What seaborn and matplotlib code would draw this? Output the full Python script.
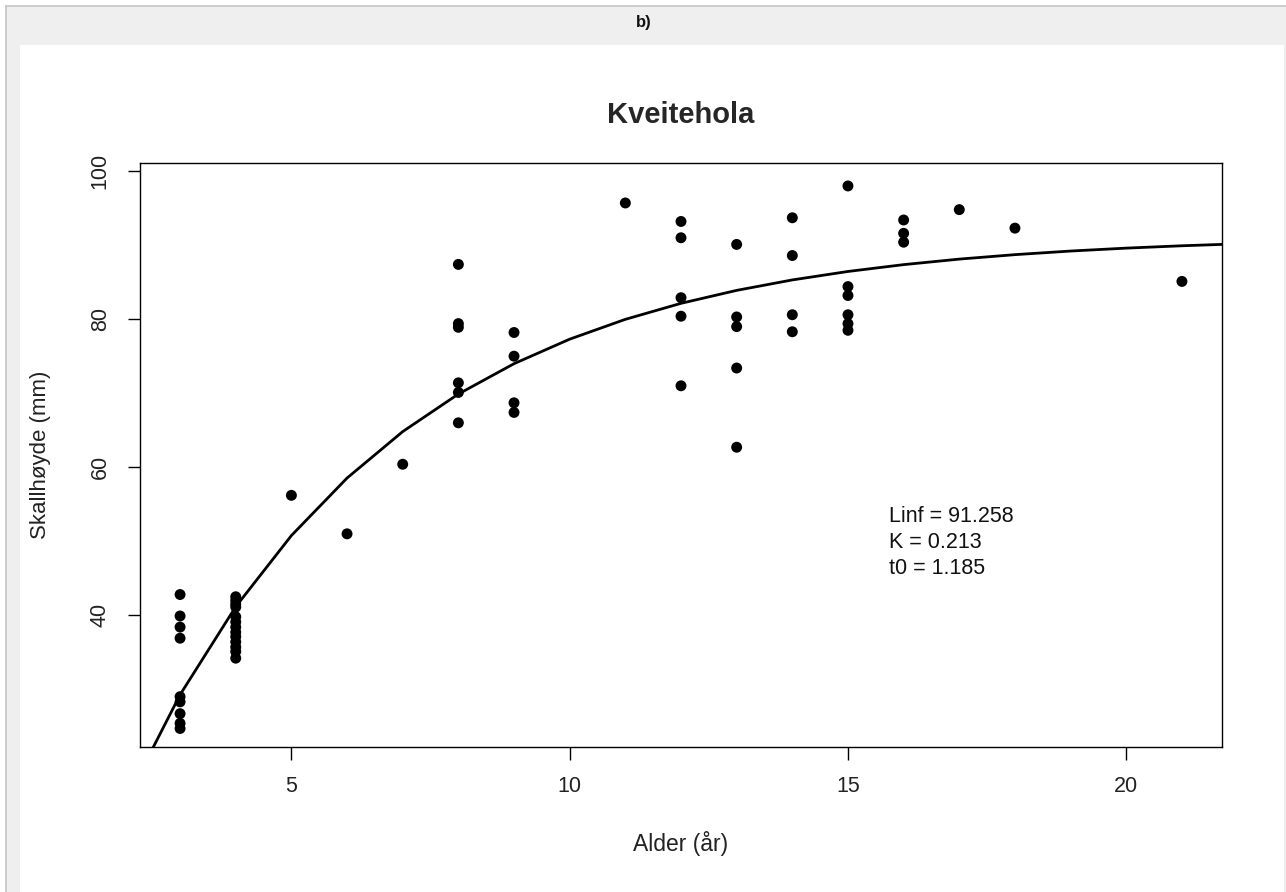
import numpy as np
import pandas as pd
import matplotlib
matplotlib.use("Agg")
import matplotlib.pyplot as plt
import seaborn as sns
from matplotlib.patches import Rectangle

# Shell height (mm) by age (years), Kveitehola
age_3 = [42.8, 39.9, 38.4, 36.9, 29.0, 28.3, 26.7, 25.4, 24.7]
age_4 = [42.5, 42.0, 41.5, 41.1, 39.8, 39.1, 38.4, 37.7, 37.1, 36.4, 35.7, 35.1, 34.2]
age_5 = [56.2]
age_6 = [51.0]
age_7 = [60.4]
age_8 = [87.4, 79.4, 78.9, 71.4, 70.1, 66.0]
age_9 = [78.2, 75.0, 68.7, 67.4]
age_11 = [95.7]
age_12 = [93.2, 91.0, 82.9, 80.4, 71.0]
age_13 = [90.1, 80.3, 79.0, 73.4, 62.7]
age_14 = [93.7, 88.6, 80.6, 78.3]
age_15 = [98.0, 84.4, 83.2, 80.6, 79.4, 78.5]
age_16 = [93.4, 91.6, 90.4]
age_17 = [94.8]
age_18 = [92.3]
age_21 = [85.1]

groups = {3: age_3, 4: age_4, 5: age_5, 6: age_6, 7: age_7, 8: age_8, 9: age_9,
          11: age_11, 12: age_12, 13: age_13, 14: age_14, 15: age_15,
          16: age_16, 17: age_17, 18: age_18, 21: age_21}

# von Bertalanffy growth parameters
Linf = 91.258
K = 0.213
t0 = 1.185

df = pd.DataFrame([(a, h) for a, hs in groups.items() for h in hs],
                  columns=["alder", "hoyde"])

t_fit = np.arange(1, 23)
fit = pd.DataFrame({"alder": t_fit,
                    "hoyde": Linf * (1 - np.exp(-K * (t_fit - t0)))})

sns.set_theme(style="ticks")
plt.rcParams["font.family"] = ["Liberation Sans", "DejaVu Sans"]

fig = plt.figure(figsize=(12.86, 8.92), dpi=100)
fig.patch.set_facecolor("white")

W, H = 1286, 892
def px(x0, y0, w, h, **kw):
    fig.add_artist(Rectangle((x0 / W, 1 - (y0 + h) / H), w / W, h / H,
                             transform=fig.transFigure, lw=0, **kw))

# panel frame: grey header band and left strip
px(5, 5, 1281, 40, facecolor="#efefef")
px(5, 5, 15, 887, facecolor="#efefef")
px(5, 5, 1281, 2, facecolor="#cccccc")
px(5, 5, 2, 887, facecolor="#cccccc")
px(1284, 45, 2, 847, facecolor="#eeeeee")
fig.text(644 / W, 1 - 22 / H, "b)", ha="center", va="center",
         fontsize=12, fontweight="bold", color="#111111")

ax = fig.add_axes([140 / W, 1 - 747 / H, (1222 - 140) / W, (747 - 163) / H])
ax.set_facecolor("white")

sns.scatterplot(data=df, x="alder", y="hoyde", ax=ax, color="black",
                s=62, edgecolor="none", linewidth=0, zorder=3)
sns.lineplot(data=fit, x="alder", y="hoyde", ax=ax, color="black",
             linewidth=2.0, zorder=2)

ax.set_xlim(2.28, 21.72)
ax.set_ylim(22.2, 101.1)
ax.set_xticks([5, 10, 15, 20])
ax.set_yticks([40, 60, 80, 100])
for s in ax.spines.values():
    s.set_visible(True)
    s.set_color("black")
    s.set_linewidth(1.0)
ax.tick_params(axis="both", direction="out", length=9, width=1.0,
               color="black", labelsize=15.5, labelcolor="#222222")
ax.tick_params(axis="x", pad=12)
ax.tick_params(axis="y", pad=12)
for lab in ax.get_yticklabels():
    lab.set_rotation(90)
    lab.set_va("center")

ax.set_xlabel("Alder (år)", fontsize=16.5, color="#222222", labelpad=24)
ax.set_ylabel("Skallhøyde (mm)", fontsize=16, color="#222222", labelpad=28)
ax.set_title("Kveitehola", fontsize=21, fontweight="bold", pad=29)

ax.text(15.73, 54.8, f"Linf = {Linf}\nK = {K}\nt0 = {t0}", ha="left", va="top",
        fontsize=15.5, color="#111111", linespacing=1.32)

fig.savefig("out.png", dpi=100, facecolor=fig.get_facecolor())
